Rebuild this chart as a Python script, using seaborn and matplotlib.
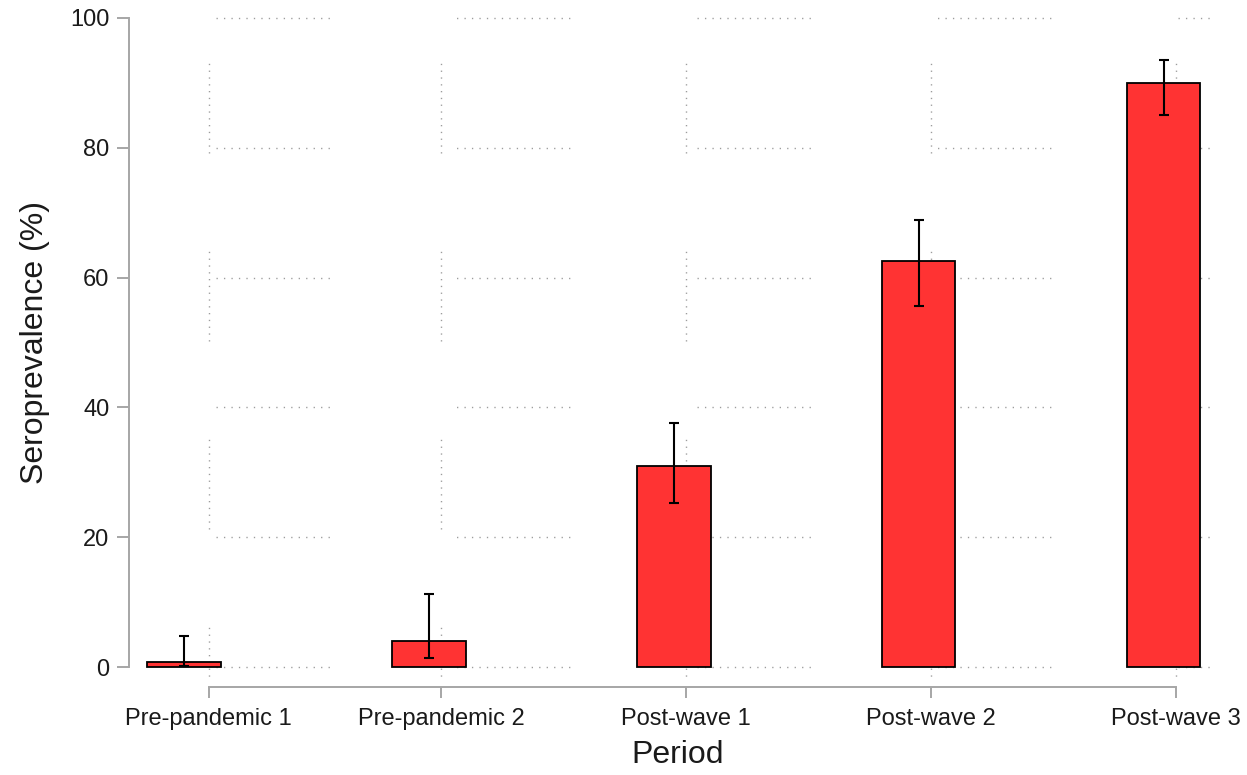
import numpy as np
import pandas as pd
import matplotlib.pyplot as plt
import seaborn as sns

# ---------------- DATA ----------------
periods = ["Pre-pandemic 1", "Pre-pandemic 2", "Post-wave 1", "Post-wave 2", "Post-wave 3"]
seroprev = [0.8, 4.0, 31.0, 62.5, 90.0]
ci_low = [0.1, 1.4, 25.2, 55.6, 85.0]
ci_high = [4.8, 11.2, 37.6, 68.8, 93.5]
y_ticks = [0, 20, 40, 60, 80, 100]

df = pd.DataFrame({"period": periods, "seroprev": seroprev})

# ticks sit a little to the right of the bars in the original
x_tick_pos = np.arange(len(periods)) + np.array([0.1, 0.05, 0.05, 0.05, 0.05])

# ---------------- STYLE ----------------
sns.set_style("white")
plt.rcParams["font.family"] = ["Liberation Sans", "DejaVu Sans"]
plt.rcParams["lines.scale_dashes"] = False

PX = 0.72  # points per pixel at dpi 100
AXIS_GREY = "#a6a6a6"
GRID_GREY = "#9c9c9c"
TEXT = "#1a1a1a"


def dotted_run(n_dots, step, period, dot=1.3):
    # n dots spaced `step` px apart, then a long gap so the run repeats every `period` px
    # (agg keeps at most 16 on/off pairs, so n_dots <= 16)
    seq = [dot * PX, (step - dot) * PX] * (n_dots - 1)
    seq += [dot * PX, (period - (n_dots - 1) * step - dot) * PX]
    return seq


fig = plt.figure(figsize=(12.47, 7.75), dpi=100)
ax = fig.add_axes([140 / 1247, 95 / 775, 1075 / 1247, 675 / 775])

# ---------------- GRID (broken dotted runs) ----------------
for y in y_ticks:
    ax.axhline(y, color=GRID_GREY, lw=1.0,
               ls=(164.5 * PX, dotted_run(16, 7.47, 240.5)), zorder=0.5)
for x in x_tick_pos:
    ax.axvline(x, color=GRID_GREY, lw=1.0,
               ls=(37 * PX, dotted_run(14, 6.8, 188)), zorder=0.5)

# ---------------- BARS + CI ----------------
sns.barplot(data=df, x="period", y="seroprev", color="#ff3333", saturation=1,
            width=0.3, edgecolor="black", linewidth=1.3, errorbar=None,
            ax=ax, zorder=2)

vals = np.array(seroprev)
yerr = [vals - np.array(ci_low), np.array(ci_high) - vals]
ax.errorbar(np.arange(len(periods)), vals, yerr=yerr, fmt="none",
            ecolor="black", elinewidth=1.5, capsize=3.6, capthick=1.5, zorder=3)

# ---------------- AXES ----------------
ax.set_xlim(-0.18, 4.21)
ax.set_ylim(-2, 102)
ax.set_xticks(x_tick_pos, periods)
ax.set_yticks(y_ticks)

for side in ["top", "right"]:
    ax.spines[side].set_visible(False)
ax.spines["left"].set_position(("outward", 8))
ax.spines["left"].set_bounds(0, 100)
ax.spines["bottom"].set_position(("outward", 5))
ax.spines["bottom"].set_bounds(x_tick_pos[0], x_tick_pos[-1])
for side in ["left", "bottom"]:
    ax.spines[side].set_color(AXIS_GREY)
    ax.spines[side].set_linewidth(1.4)

ax.tick_params(axis="x", bottom=True, length=8, width=1.4, color=AXIS_GREY,
               pad=7.5, labelsize=17, labelcolor=TEXT)
ax.tick_params(axis="y", left=True, length=8.6, width=1.4, color=AXIS_GREY,
               pad=5.5, labelsize=17, labelcolor=TEXT)

ax.set_xlabel("Period", fontsize=23, color=TEXT, labelpad=7)
ax.set_ylabel("Seroprevalence (%)", fontsize=23, color=TEXT, labelpad=14)

fig.savefig("out.png", dpi=100)
